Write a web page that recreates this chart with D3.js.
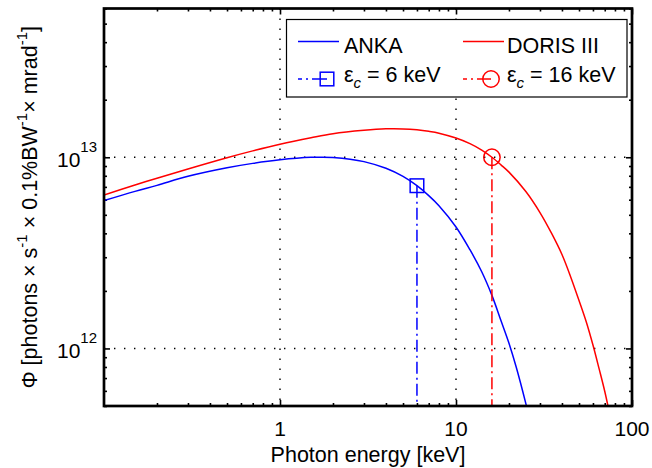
<!DOCTYPE html>
<html><head><meta charset="utf-8">
<script src="https://cdn.jsdelivr.net/npm/d3@7"></script>
<style>
body{margin:0;background:#fff}
svg{display:block}
text{font-family:"Liberation Sans",Arial,Helvetica,sans-serif;fill:#000}
</style>
</head><body>
<svg id="c" width="652" height="468"></svg>
<script>
// ---- data ----
const energyANKA = [0.1,0.15,0.2,0.3,0.5,0.7,1,1.5,1.75,2,2.5,3,4,5,6,7,8,10,12,14,16,18,20,22,25,26];
const fluxANKA   = [5.93e12,6.63e12,7.13e12,7.95e12,8.81e12,9.29e12,9.70e12,9.99e12,1.0e13,9.96e12,9.77e12,9.49e12,8.76e12,7.94e12,7.10e12,6.30e12,5.58e12,4.32e12,3.285e12,2.52e12,1.895e12,1.40e12,1.065e12,7.97e11,5.10e11,4.39e11];
const energyDORIS = [0.1,0.15,0.2,0.3,0.5,0.7,1,1.5,2,3,4,5,6,7,8,10,12,14,16,18,20,25,30,35,40,45,50,55,60,65,70,75];
const fluxDORIS   = [6.35e12,7.16e12,7.77e12,8.69e12,9.95e12,1.08e13,1.17e13,1.265e13,1.329e13,1.384e13,1.408e13,1.4075e13,1.392e13,1.367e13,1.337e13,1.26e13,1.178e13,1.09e13,1.0e13,9.13e12,8.36e12,6.60e12,5.14e12,3.985e12,3.10e12,2.345e12,1.781e12,1.375e12,1.042e12,7.84e11,5.97e11,4.45e11];
const criticalEnergy = [6, 16];
const criticalFlux   = [7.10e12, 1.0e13];
const seriesNames = ["ANKA", "DORIS III"];
const criticalLabels = ["6 keV", "16 keV"];
const seriesColors = ["#0000ff", "#ff0000"];
const xTickValues = [1, 10, 100];
const xTickLabels = ["1", "10", "100"];
const yTickValues = [1e12, 1e13];
const yTickExponents = ["12", "13"];
const xMinorTicks = [0.2,0.3,0.4,0.5,0.6,0.7,0.8,0.9,2,3,4,5,6,7,8,9,20,30,40,50,60,70,80,90];
const yMinorTicks = [5e11,6e11,7e11,8e11,9e11,2e12,3e12,4e12,5e12,6e12,7e12,8e12,9e12,2e13,3e13,4e13,5e13,6e13];

// ---- layout ----
const L = 104, R = 632, T = 8.5, B = 406;
const svg = d3.select("#c");
svg.append("rect").attr("width",652).attr("height",468).attr("fill","#fff");

const x = d3.scaleLog().domain([0.1, 100]).range([L, R]);
const y = d3.scaleLog().domain([5e11, 6e13]).range([B, T]);

svg.append("defs").append("clipPath").attr("id","clip")
  .append("rect").attr("x",L).attr("y",T).attr("width",R-L).attr("height",B-T);

// grid (dotted, major only)
const grid = svg.append("g").attr("stroke","#000").attr("stroke-width",1.4).attr("stroke-dasharray","1.4,8.6");
grid.selectAll(".gx").data([1,10]).join("line").attr("class","gx")
  .attr("x1",d=>x(d)).attr("x2",d=>x(d)).attr("y1",T).attr("y2",B);
grid.selectAll(".gy").data(yTickValues).join("line").attr("class","gy")
  .attr("x1",L).attr("x2",R).attr("y1",d=>y(d)).attr("y2",d=>y(d));

// axes ticks (inward, mirrored)
function styleAxis(g){ g.select(".domain").remove(); g.selectAll("line").attr("stroke","#000").attr("stroke-width",1.6); g.selectAll("text").remove(); }
svg.append("g").attr("transform",`translate(0,${B})`).call(d3.axisBottom(x).tickValues(xTickValues).tickSize(-6)).call(styleAxis);
svg.append("g").attr("transform",`translate(0,${B})`).call(d3.axisBottom(x).tickValues(xMinorTicks).tickSize(-3)).call(styleAxis);
svg.append("g").attr("transform",`translate(0,${T})`).call(d3.axisTop(x).tickValues(xTickValues).tickSize(-6)).call(styleAxis);
svg.append("g").attr("transform",`translate(0,${T})`).call(d3.axisTop(x).tickValues(xMinorTicks).tickSize(-3)).call(styleAxis);
svg.append("g").attr("transform",`translate(${L},0)`).call(d3.axisLeft(y).tickValues(yTickValues).tickSize(-6)).call(styleAxis);
svg.append("g").attr("transform",`translate(${L},0)`).call(d3.axisLeft(y).tickValues(yMinorTicks).tickSize(-3)).call(styleAxis);
svg.append("g").attr("transform",`translate(${R},0)`).call(d3.axisRight(y).tickValues(yTickValues).tickSize(-6)).call(styleAxis);
svg.append("g").attr("transform",`translate(${R},0)`).call(d3.axisRight(y).tickValues(yMinorTicks).tickSize(-3)).call(styleAxis);

// tick labels
svg.selectAll(".xl").data(xTickValues).join("text").attr("class","xl")
  .attr("x",d=>x(d)).attr("y",B+30).attr("text-anchor","middle").attr("font-size",21)
  .text((d,i)=>xTickLabels[i]);
const yl = svg.selectAll(".yl").data(yTickValues).join("text").attr("class","yl")
  .attr("x",L-7).attr("y",d=>y(d)+9.5).attr("text-anchor","end").attr("font-size",21);
yl.append("tspan").text("10");
yl.append("tspan").attr("dy",-15).attr("font-size",15).text((d,i)=>yTickExponents[i]);

// curves
const line = d3.line().x(d=>x(d[0])).y(d=>y(d[1])).curve(d3.curveCatmullRom.alpha(0.5));
const plotG = svg.append("g").attr("clip-path","url(#clip)");
const curves = [d3.zip(energyANKA, fluxANKA), d3.zip(energyDORIS, fluxDORIS)];
plotG.selectAll(".curve").data(curves).join("path").attr("class","curve")
  .attr("d",line).attr("fill","none").attr("stroke",(d,i)=>seriesColors[i]).attr("stroke-width",1.5);

// critical energy markers: dash-dot vertical lines
plotG.selectAll(".crit").data(criticalEnergy).join("line").attr("class","crit")
  .attr("x1",d=>x(d)).attr("x2",d=>x(d))
  .attr("y1",(d,i)=>y(criticalFlux[i])).attr("y2",B+5)
  .attr("stroke",(d,i)=>seriesColors[i]).attr("stroke-width",1.5).attr("stroke-dasharray","12,4,2,4");
// square marker (ANKA)
svg.append("rect").attr("x",x(criticalEnergy[0])-6.8).attr("y",y(criticalFlux[0])-6.8)
  .attr("width",13.6).attr("height",13.6).attr("fill","none").attr("stroke",seriesColors[0]).attr("stroke-width",1.5);
// circle marker (DORIS)
svg.append("circle").attr("cx",x(criticalEnergy[1])).attr("cy",y(criticalFlux[1])).attr("r",8.2)
  .attr("fill","none").attr("stroke",seriesColors[1]).attr("stroke-width",1.5);

// border
svg.append("rect").attr("x",L).attr("y",T).attr("width",R-L).attr("height",B-T)
  .attr("fill","none").attr("stroke","#000").attr("stroke-width",2.7);

// axis titles
svg.append("text").attr("x",(L+R)/2).attr("y",462).attr("text-anchor","middle").attr("font-size",21.5)
  .text("Photon energy [keV]");
const yt = svg.append("text").attr("transform",`translate(37,${(T+B)/2}) rotate(-90)`)
  .attr("text-anchor","middle").attr("font-size",21.5);
yt.append("tspan").text("\u03A6 [photons \u00D7 s");
yt.append("tspan").attr("dy",-10).attr("font-size",15).text("-1");
yt.append("tspan").attr("dy",10).text(" \u00D7 0.1%BW");
yt.append("tspan").attr("dy",-10).attr("font-size",15).text("-1");
yt.append("tspan").attr("dy",10).text("\u00D7 mrad");
yt.append("tspan").attr("dy",-10).attr("font-size",15).text("-1");
yt.append("tspan").attr("dy",10).text("]");

// legend
const lg = svg.append("g");
lg.append("rect").attr("x",286.5).attr("y",19.5).attr("width",340.5).attr("height",77.5)
  .attr("fill","#fff").attr("stroke","#000").attr("stroke-width",1.2);
const lineX = [298, 463], textX = [344, 507], markX = [327, 491];
seriesNames.forEach((name,i)=>{
  lg.append("line").attr("x1",lineX[i]).attr("x2",lineX[i]+41).attr("y1",41.5).attr("y2",41.5)
    .attr("stroke",seriesColors[i]).attr("stroke-width",1.5);
  lg.append("text").attr("x",textX[i]).attr("y",53).attr("font-size",21.5).text(name);
  lg.append("line").attr("x1",lineX[i]).attr("x2",markX[i]).attr("y1",79).attr("y2",79)
    .attr("stroke",seriesColors[i]).attr("stroke-width",1.5).attr("stroke-dasharray","4,4,2,4,40");
  const t = lg.append("text").attr("x",textX[i]).attr("y",82).attr("font-size",21.5);
  t.append("tspan").text("\u03B5");
  t.append("tspan").attr("dy",6).attr("font-size",15).attr("font-style","italic").text("c");
  t.append("tspan").attr("dy",-6).text(" = " + criticalLabels[i]);
});
lg.append("rect").attr("x",markX[0]-6.8).attr("y",79-6.8).attr("width",13.6).attr("height",13.6)
  .attr("fill","none").attr("stroke",seriesColors[0]).attr("stroke-width",1.5);
lg.append("circle").attr("cx",markX[1]).attr("cy",79).attr("r",8.2)
  .attr("fill","none").attr("stroke",seriesColors[1]).attr("stroke-width",1.5);
</script>
</body></html>
